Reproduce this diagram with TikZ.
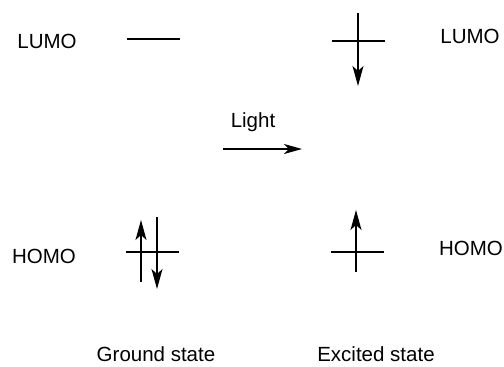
\documentclass[tikz,border=0pt]{standalone}
\usepackage{fontspec}
\setmainfont{Liberation Sans}
\usetikzlibrary{arrows.meta}
\begin{document}
\begin{tikzpicture}[x=1pt,y=-1pt,
  lbl/.style={font=\fontsize{20.5}{24}\selectfont, inner sep=0pt},
  level/.style={line width=1.4pt},
  spin/.style={line width=1.4pt, -{Stealth[length=20pt,width=11pt,inset=5pt]}},
  lightarrow/.style={line width=1.4pt, -{Stealth[length=18pt,width=10pt,inset=5pt]}}]
\useasboundingbox (0,0) rectangle (504,367);
% labels
\node[lbl] (lumoL) at (47,41) {LUMO};
\node[lbl] (lumoR) at (470,36) {LUMO};
\node[lbl] (homoL) at (44,256) {HOMO};
\node[lbl] (homoR) at (471,248) {HOMO};
\node[lbl] (light) at (253,122) {Light};
\node[lbl] (ground) at (156,354) {Ground state};
\node[lbl] (excited) at (376,354) {Excited state};
% ground LUMO
\coordinate (gl1) at (127,39);
\coordinate (gl2) at (180,39);
\draw[level] (gl1) -- (gl2);
% excited LUMO
\coordinate (el1) at (332,41);
\coordinate (el2) at (385,41);
\draw[level] (el1) -- (el2);
\coordinate (eld1) at (358,13);
\coordinate (eld2) at (358,86);
\draw[spin] (eld1) -- (eld2);
% light arrow
\coordinate (la1) at (223,149);
\coordinate (la2) at (302,149);
\draw[lightarrow] (la1) -- (la2);
% ground HOMO
\coordinate (gh1) at (126,252);
\coordinate (gh2) at (179,252);
\draw[level] (gh1) -- (gh2);
\coordinate (ghu1) at (141,282);
\coordinate (ghu2) at (141,220);
\draw[spin] (ghu1) -- (ghu2);
\coordinate (ghd1) at (157,217);
\coordinate (ghd2) at (157,289);
\draw[spin] (ghd1) -- (ghd2);
% excited HOMO
\coordinate (eh1) at (331,252);
\coordinate (eh2) at (384,252);
\draw[level] (eh1) -- (eh2);
\coordinate (ehu1) at (356,272);
\coordinate (ehu2) at (356,210);
\draw[spin] (ehu1) -- (ehu2);
\end{tikzpicture}
\end{document}
